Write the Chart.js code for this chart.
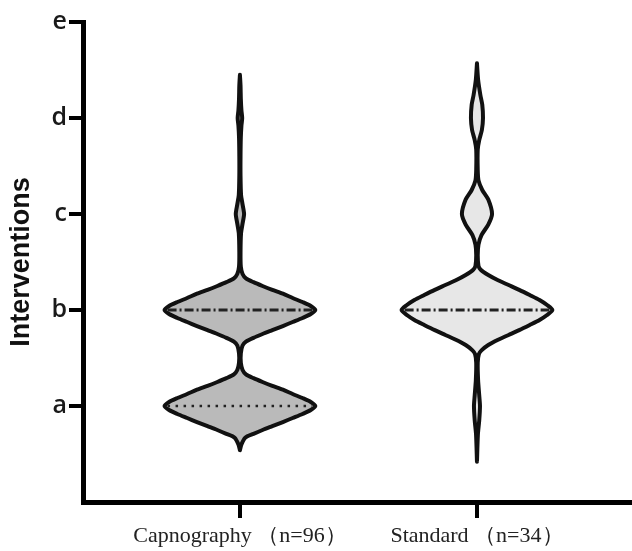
<!DOCTYPE html>
<html>
<head>
<meta charset="utf-8">
<script src="https://cdn.jsdelivr.net/npm/chart.js@4.4.1/dist/chart.umd.min.js"></script>
<style>
  html, body { margin: 0; padding: 0; background: #fff; }
</style>
</head>
<body>
<canvas id="chart" width="632" height="551"></canvas>
<script>
// categories and levels
const groups = ['Capnography （n=96）', 'Standard （n=34）'];
const levelLabels = ['a', 'b', 'c', 'd', 'e'];

// violin outlines: level (a=1 ... e=5) and relative density at that level
const capY = [4.45, 4.34, 4.2, 4.08, 4.0, 3.92, 3.8, 3.6, 3.4, 3.2, 3.1, 3.0, 2.9, 2.8, 2.6,
  2.45, 2.375, 2.33, 2.29, 2.25, 2.21, 2.17, 2.125, 2.083, 2.042, 2.0, 1.958, 1.917, 1.875, 1.833,
  1.79, 1.75, 1.71, 1.67, 1.63, 1.55, 1.45, 1.375, 1.33, 1.29, 1.25, 1.21, 1.17, 1.125, 1.083,
  1.042, 1.0, 0.958, 0.917, 0.875, 0.833, 0.79, 0.75, 0.71, 0.67, 0.6, 0.54];
const capW = [0, 0.008, 0.012, 0.02, 0.03, 0.02, 0.012, 0.008, 0.008, 0.015, 0.035, 0.055, 0.035, 0.015, 0.008,
  0.012, 0.035, 0.08, 0.18, 0.3, 0.43, 0.57, 0.7, 0.83, 0.94, 1.0, 0.94, 0.83, 0.7, 0.57,
  0.43, 0.3, 0.18, 0.08, 0.035, 0.012, 0.012, 0.035, 0.08, 0.18, 0.3, 0.43, 0.57, 0.7, 0.83,
  0.94, 1.0, 0.94, 0.83, 0.7, 0.57, 0.43, 0.3, 0.18, 0.07, 0.02, 0];

const stdY = [4.57, 4.4, 4.24, 4.14, 4.0, 3.875, 3.77, 3.67, 3.46, 3.35, 3.25, 3.15, 3.0, 2.89, 2.78,
  2.68, 2.57, 2.46, 2.42, 2.365, 2.31, 2.26, 2.21, 2.156, 2.104, 2.052, 2.0, 1.948, 1.896, 1.844,
  1.79, 1.74, 1.69, 1.635, 1.58, 1.54, 1.45, 1.27, 1.11, 1.0, 0.85, 0.7, 0.42];
const stdW = [0, 0.015, 0.045, 0.07, 0.08, 0.065, 0.03, 0.01, 0.01, 0.02, 0.07, 0.15, 0.2, 0.15, 0.06,
  0.02, 0.01, 0.02, 0.05, 0.15, 0.28, 0.42, 0.56, 0.7, 0.83, 0.93, 1.0, 0.93, 0.83, 0.7,
  0.56, 0.42, 0.28, 0.15, 0.06, 0.025, 0.01, 0.015, 0.03, 0.04, 0.03, 0.012, 0];

const medians = [2, 2];
const lowerQuartiles = [1, 2];

const HALF_WIDTH = 0.318; // x units for density 1
const fillColors = ['#bababa', '#e7e7e7'];

function violinPoints(center, ys, ws) {
  const right = ys.map((y, i) => ({ x: center + ws[i] * HALF_WIDTH, y: y }));
  const left = ys.map((y, i) => ({ x: center - ws[i] * HALF_WIDTH, y: y })).reverse();
  return right.concat(left);
}

function widthAt(ys, ws, level) {
  const i = ys.indexOf(level);
  return i >= 0 ? ws[i] : 0;
}

const profiles = [[capY, capW], [stdY, stdW]];
const datasets = [];

profiles.forEach(([ys, ws], g) => {
  const center = g + 1;
  datasets.push({
    label: groups[g],
    data: violinPoints(center, ys, ws),
    showLine: true,
    fill: 'shape',
    backgroundColor: fillColors[g],
    borderColor: '#111',
    borderWidth: 4,
    borderJoinStyle: 'round',
    borderCapStyle: 'round',
    tension: 0.25,
    pointRadius: 0,
    order: 2
  });

  // quartile (dotted) when it differs from the median
  const q = lowerQuartiles[g];
  if (q !== medians[g]) {
    const wq = widthAt(ys, ws, q) * HALF_WIDTH * 0.96;
    datasets.push({
      label: 'q1',
      data: [{ x: center - wq, y: q }, { x: center + wq, y: q }],
      showLine: true,
      borderColor: '#222',
      borderWidth: 2.5,
      borderDash: [2.5, 5.5],
      pointRadius: 0,
      fill: false,
      order: 1
    });
  }

  // median (dash-dot)
  const m = medians[g];
  const wm = widthAt(ys, ws, m) * HALF_WIDTH * 0.96;
  datasets.push({
    label: 'median',
    data: [{ x: center - wm, y: m }, { x: center + wm, y: m }],
    showLine: true,
    borderColor: '#222',
    borderWidth: 3,
    borderDash: [9, 3, 2, 3],
    pointRadius: 0,
    fill: false,
    order: 0
  });
});

new Chart(document.getElementById('chart'), {
  type: 'scatter',
  data: { datasets: datasets },
  options: {
    responsive: false,
    devicePixelRatio: 1,
    animation: false,
    layout: { padding: { top: 22, left: 0, right: 0, bottom: 0 } },
    plugins: {
      legend: { display: false },
      tooltip: { enabled: false }
    },
    scales: {
      x: {
        type: 'linear',
        min: 0.338,
        max: 2.654,
        afterBuildTicks: (axis) => { axis.ticks = [{ value: 1 }, { value: 2 }]; },
        afterFit: (axis) => { axis.height = 49; },
        ticks: {
          callback: (v) => groups[v - 1],
          font: { family: "'Liberation Serif', 'Times New Roman', serif", size: 22 },
          color: '#222',
          padding: 5,
          maxRotation: 0,
          autoSkip: false
        },
        grid: { drawOnChartArea: false, drawTicks: true, tickLength: 16, lineWidth: 4, color: '#000' },
        border: { display: true, color: '#000', width: 5 }
      },
      y: {
        min: 0,
        max: 5,
        afterBuildTicks: (axis) => { axis.ticks = [1, 2, 3, 4, 5].map(v => ({ value: v })); },
        afterFit: (axis) => { axis.width = 83; },
        ticks: {
          callback: (v) => levelLabels[v - 1],
          font: { family: "'Open Sans', sans-serif", size: 25, weight: 600 },
          color: '#1a1a1a',
          padding: 2
        },
        grid: { drawOnChartArea: false, drawTicks: true, tickLength: 14, lineWidth: 4, color: '#000' },
        border: { display: true, color: '#000', width: 5 },
        title: {
          display: true,
          text: 'Interventions',
          font: { family: "'Liberation Sans', Arial, sans-serif", size: 27, weight: 'bold' },
          color: '#111',
          padding: { top: 5, bottom: 0 }
        }
      }
    }
  }
});
</script>
</body>
</html>
